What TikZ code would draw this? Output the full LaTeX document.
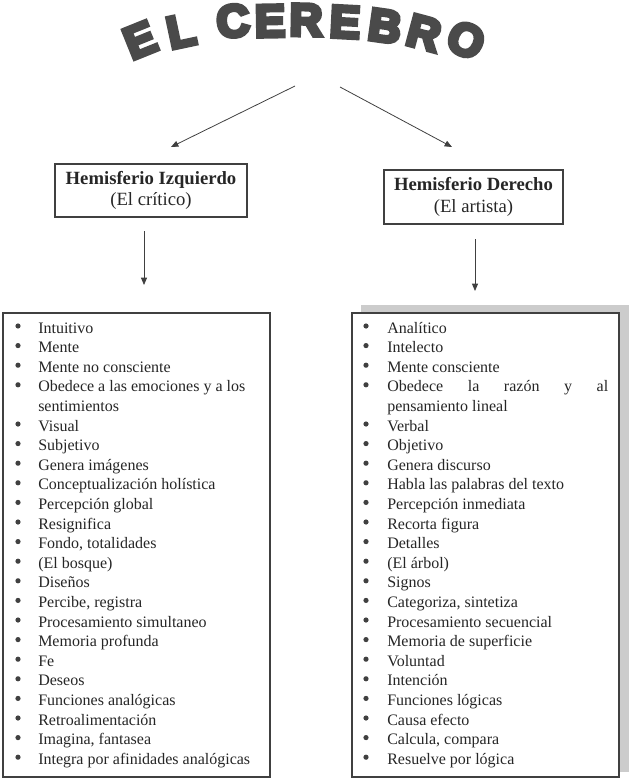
\documentclass[tikz,border=0pt]{standalone}
\usepackage{fontspec}
\setmainfont{Liberation Serif}
\newfontfamily\titlefont{Liberation Sans Bold}[FakeBold=9]
\usetikzlibrary{arrows.meta}
\definecolor{linegray}{HTML}{404040}
\definecolor{titlegray}{HTML}{4A4A4A}
\definecolor{shadowgray}{HTML}{CCCCCC}
\definecolor{inkgray}{HTML}{262626}

\begin{document}
\begin{tikzpicture}[x=0.75pt, y=0.75pt,
    letter/.style = {inner sep=0pt, text=titlegray, font=\titlefont\fontsize{34}{34}\selectfont},
    hemi/.style = {draw=linegray, line width=0.9pt, inner sep=0pt, align=center, text=inkgray, font=\fontsize{14}{16}\selectfont},
    listbox/.style = {draw=linegray, line width=0.9pt, minimum width=200.25pt, minimum height=348pt, inner sep=0pt},
    item/.style = {anchor=base west, inner sep=0pt, text=inkgray, font=\fontsize{12}{14}\selectfont},
    arrow/.style = {draw=linegray, line width=0.6pt, -{Triangle[length=5.5pt, width=4.5pt]}}]
  \useasboundingbox (0,0) rectangle (629,-781);

  % title on an arch
  \foreach \ch/\px/\py/\rot [count=\i] in {E/140/40/22, L/181/31/12, C/233/21/5, E/270/21/1, R/306/20/-1,
      E/345/22/-3, B/385/26/-8, R/424/33/-15, O/466/40/-24}
    \node[letter, rotate=\rot] (t\i) at (\px,-\py) {\ch};

  % hemispheres
  \node[hemi, minimum width=144pt, minimum height=39.75pt] (izq) at (151,-190.5)
    {\textbf{Hemisferio Izquierdo}\\(El crítico)};
  \node[hemi, minimum width=134.25pt, minimum height=40.5pt] (der) at (473.5,-197)
    {\textbf{Hemisferio Derecho}\\(El artista)};

  \coordinate (titleL) at (295,-86);
  \coordinate (titleR) at (340,-87);
  \coordinate (izqIn) at (171,-147);
  \coordinate (derIn) at (452,-147);
  \coordinate (izqOut) at (144,-231);
  \coordinate (derOut) at (475,-239);
  \coordinate (izqList) at (144,-285);
  \coordinate (derList) at (475,-291);

  \draw[arrow] (titleL) -- (izqIn);
  \draw[arrow] (titleR) -- (derIn);
  \draw[arrow] (izqOut) -- (izqList);
  \draw[arrow] (derOut) -- (derList);

  % lists
  \fill[shadowgray] (361,-305) rectangle (629,-772);
  \node[listbox, fill=white] (izqBox) at (136.5,-545) {};
  \node[listbox, fill=white] (derBox) at (485.5,-545) {};

  \foreach \txt/\bul [count=\i from 0] in {Intuitivo/1, Mente/1, Mente no consciente/1,
      Obedece a las emociones y a los/1, sentimientos/0, Visual/1, Subjetivo/1, Genera imágenes/1,
      Conceptualización holística/1, Percepción global/1, Resignifica/1, {Fondo, totalidades}/1,
      {(El bosque)}/1, Diseños/1, {Percibe, registra}/1, Procesamiento simultaneo/1, Memoria profunda/1,
      Fe/1, Deseos/1, Funciones analógicas/1, Retroalimentación/1, {Imagina, fantasea}/1,
      Integra por afinidades analógicas/1} {
    \node[item] (lt\i) at (38,{-(333+19.6*\i)}) {\txt};
    \ifnum\bul=1 \fill[linegray] (18,{-(326+19.6*\i)}) circle (2.6); \fi
  }

  \foreach \txt/\bul [count=\i from 0] in {Analítico/1, Intelecto/1, Mente consciente/1,
      \makebox[165.75pt][s]{Obedece la razón y al}/1, pensamiento lineal/0, Verbal/1, Objetivo/1,
      Genera discurso/1, Habla las palabras del texto/1, Percepción inmediata/1, Recorta figura/1,
      Detalles/1, {(El árbol)}/1, Signos/1, {Categoriza, sintetiza}/1, Procesamiento secuencial/1,
      Memoria de superficie/1, Voluntad/1, Intención/1, Funciones lógicas/1, Causa efecto/1,
      {Calcula, compara}/1, Resuelve por lógica/1} {
    \node[item] (rt\i) at (387,{-(333+19.6*\i)}) {\txt};
    \ifnum\bul=1 \fill[linegray] (366,{-(326+19.6*\i)}) circle (2.6); \fi
  }
\end{tikzpicture}
\end{document}
